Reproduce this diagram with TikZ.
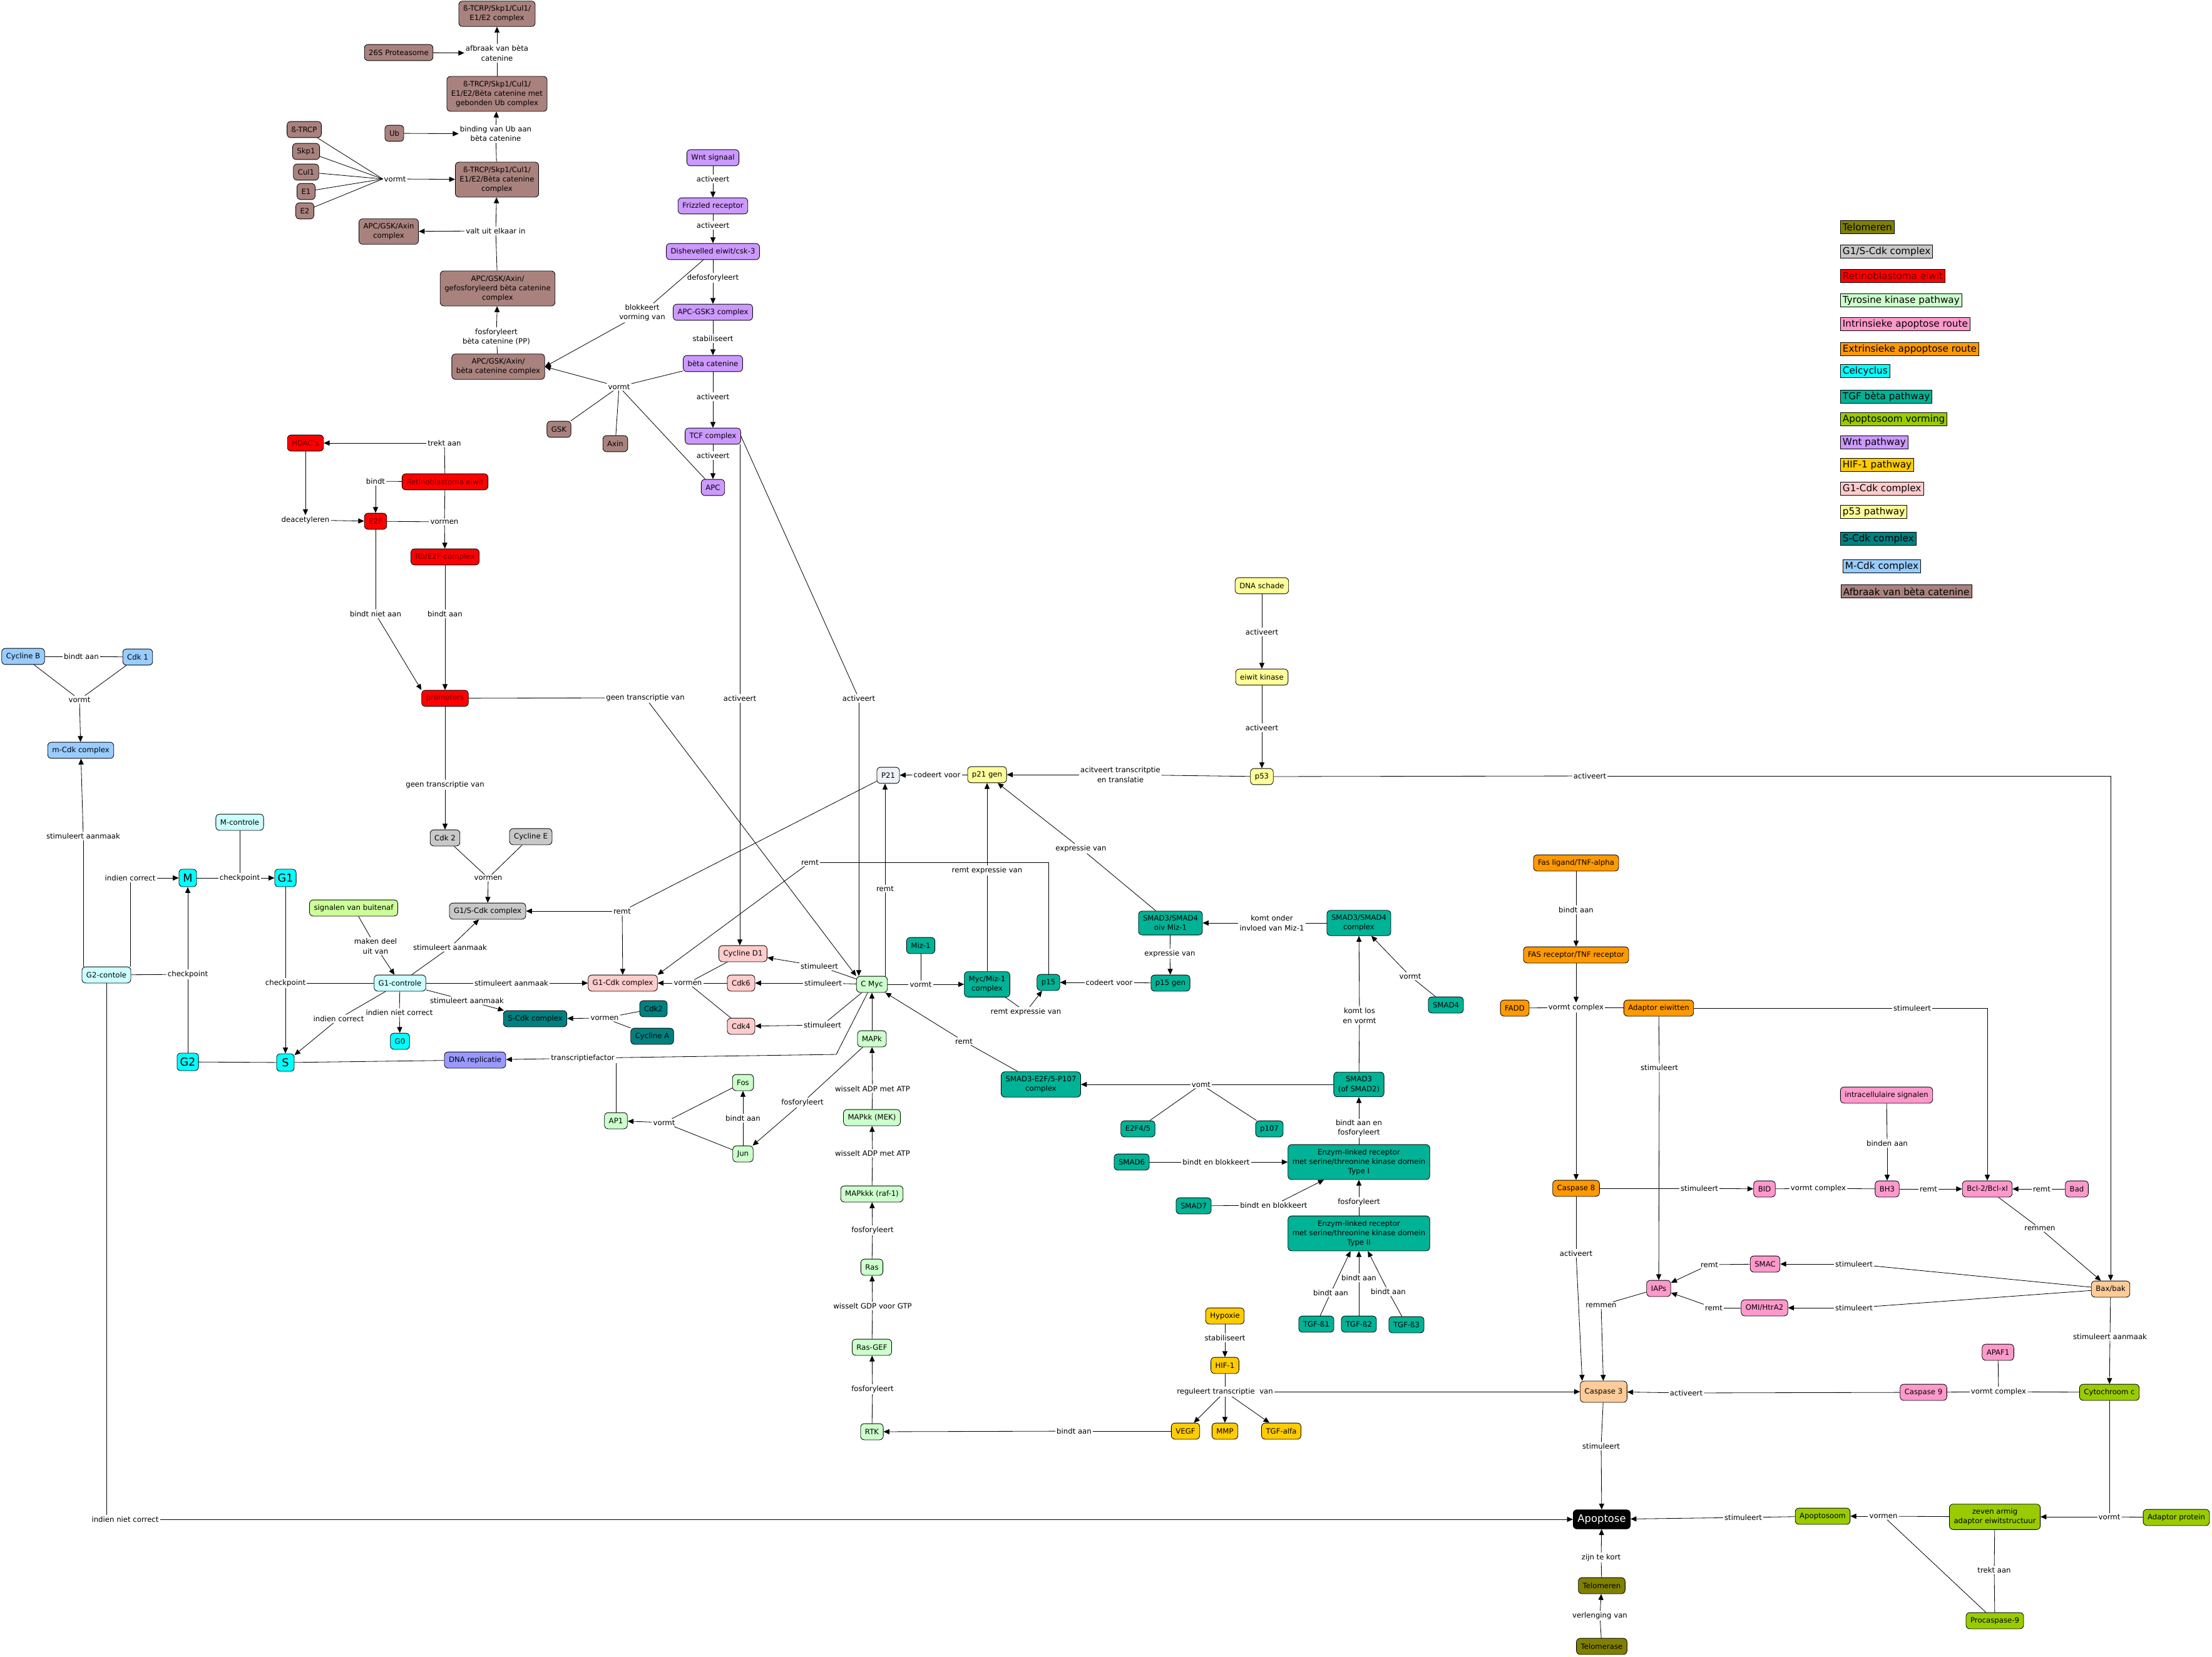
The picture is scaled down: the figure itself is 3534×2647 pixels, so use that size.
\documentclass[tikz,border=0pt]{standalone}
\usepackage{fontspec}
\setmainfont{DejaVu Sans}
\usepackage{tikz}
\usetikzlibrary{arrows.meta,calc}

\definecolor{colAfb}{RGB}{169,130,126}
\definecolor{colWnt}{RGB}{204,153,255}
\definecolor{colRb}{RGB}{255,0,0}
\definecolor{colRbText}{RGB}{105,0,0}
\definecolor{colGrey}{RGB}{200,200,200}
\definecolor{colTk}{RGB}{204,255,204}
\definecolor{colInt}{RGB}{255,153,204}
\definecolor{colExt}{RGB}{255,153,0}
\definecolor{colCel}{RGB}{0,255,255}
\definecolor{colTgf}{RGB}{0,178,150}
\definecolor{colAps}{RGB}{153,204,0}
\definecolor{colHif}{RGB}{255,204,0}
\definecolor{colGone}{RGB}{255,204,204}
\definecolor{colPft}{RGB}{255,255,153}
\definecolor{colScdk}{RGB}{0,128,128}
\definecolor{colMcdk}{RGB}{153,204,255}
\definecolor{colTelo}{RGB}{128,128,0}
\definecolor{colCtrl}{RGB}{204,255,255}
\definecolor{colSig}{RGB}{204,255,153}
\definecolor{colDna}{RGB}{153,153,255}
\definecolor{colPtw}{RGB}{236,242,246}
\definecolor{colPeach}{RGB}{255,204,153}

\begin{document}
\begin{tikzpicture}[x=0.03cm, y=-0.03cm, line width=0.7pt, >={Triangle[length=8pt,width=7pt]},
    cpt/.style={draw, rounded corners=5pt, align=center, inner xsep=6pt, inner ysep=6pt, minimum height=22pt, font=\fontsize{10}{13}\selectfont},
    lnk/.style={inner sep=1.5pt, align=center, font=\fontsize{10}{13}\selectfont},
    afbbox/.style={cpt, fill=colAfb},
    wntbox/.style={cpt, fill=colWnt},
    rbbox/.style={cpt, fill=colRb, text=colRbText},
    greybox/.style={cpt, fill=colGrey},
    tkbox/.style={cpt, fill=colTk},
    intbox/.style={cpt, fill=colInt},
    extbox/.style={cpt, fill=colExt},
    celbox/.style={cpt, fill=colCel},
    phasebox/.style={cpt, fill=colCel, font=\fontsize{15}{18}\selectfont, minimum width=24pt, minimum height=24pt, inner xsep=4pt},
    tgfbox/.style={cpt, fill=colTgf},
    apsbox/.style={cpt, fill=colAps},
    hifbox/.style={cpt, fill=colHif},
    gonebox/.style={cpt, fill=colGone},
    pftbox/.style={cpt, fill=colPft},
    scdkbox/.style={cpt, fill=colScdk},
    mcdkbox/.style={cpt, fill=colMcdk},
    telbox/.style={cpt, fill=colTelo},
    ctrlbox/.style={cpt, fill=colCtrl},
    peachbox/.style={cpt, fill=colPeach},
    apopbox/.style={cpt, fill=black, text=white, font=\fontsize{14}{17}\selectfont, minimum height=26pt},
    legbox/.style={draw, anchor=west, inner xsep=3pt, inner ysep=2pt, minimum height=18pt, font=\fontsize{13}{15}\selectfont}]

    \useasboundingbox (0,0) rectangle (3534,2647);

    \node[afbbox] (top) at (794,22) {ß-TCRP/Skp1/Cul1/\\E1/E2 complex};
    \node[afbbox] (pro) at (637,84) {26S Proteasome};
    \node[afbbox] (ubc) at (794,150) {ß-TRCP/Skp1/Cul1/\\E1/E2/Bèta catenine met\\gebonden Ub complex};
    \node[afbbox] (ub) at (630,213) {Ub};
    \node[afbbox] (btrcp) at (486,207) {ß-TRCP};
    \node[afbbox] (skp) at (489,242) {Skp1};
    \node[afbbox] (cul) at (489,275) {Cul1};
    \node[afbbox] (eone) at (489,306) {E1};
    \node[afbbox] (etwo) at (487,337) {E2};
    \node[afbbox] (cplx) at (794,287) {ß-TRCP/Skp1/Cul1/\\E1/E2/Bèta catenine\\complex};
    \node[afbbox] (agac) at (621,370) {APC/GSK/Axin\\complex};
    \node[afbbox] (gfc) at (795,461) {APC/GSK/Axin/\\gefosforyleerd bèta catenine\\complex};
    \node[afbbox] (abc) at (796,586) {APC/GSK/Axin/\\bèta catenine complex};
    \node[afbbox] (gsk) at (893,686) {GSK};
    \node[afbbox] (axin) at (983,709) {Axin};

    \node[lnk] (lAfbr) at (794,85) {afbraak van bèta\\catenine};
    \node[lnk] (lBind) at (792,214) {binding van Ub aan\\bèta catenine};
    \node[lnk] (lVormtA) at (631,286) {vormt};
    \node[lnk] (lValt) at (792,369) {valt uit elkaar in};
    \node[lnk] (lFosf) at (793,538) {fosforyleert\\bèta catenine (PP)};
    \node[lnk] (lBlok) at (1026,500) {blokkeert\\vorming van};
    \node[lnk] (lVormtB) at (989,618) {vormt};

    \node[wntbox] (wnt) at (1139,252) {Wnt signaal};
    \node[wntbox] (friz) at (1139,329) {Frizzled receptor};
    \node[wntbox] (dish) at (1139,402) {Dishevelled eiwit/csk-3};
    \node[wntbox] (apcg) at (1139,499) {APC-GSK3 complex};
    \node[wntbox] (bcat) at (1139,581) {bèta catenine};
    \node[wntbox] (tcf) at (1139,697) {TCF complex};
    \node[wntbox] (apc) at (1139,779) {APC};
    \node[lnk] (lActWa) at (1139,286) {activeert};
    \node[lnk] (lActWb) at (1139,360) {activeert};
    \node[lnk] (lDefos) at (1139,444) {defosforyleert};
    \node[lnk] (lStab) at (1139,541) {stabiliseert};
    \node[lnk] (lActWc) at (1139,634) {activeert};
    \node[lnk] (lActWd) at (1139,728) {activeert};
    \node[lnk] (lActD) at (1182,1116) {activeert};
    \node[lnk] (lActM) at (1372,1116) {activeert};

    \node[rbbox] (hdac) at (488,708) {HDAC's};
    \node[rbbox] (rb) at (711,770) {Retinoblastoma eiwit};
    \node[rbbox] (etf) at (600,833) {E2F};
    \node[rbbox] (rbe) at (711,890) {Rb/E2F-complex};
    \node[rbbox] (prom) at (711,1116) {promoters};
    \node[lnk] (lTrekt) at (710,708) {trekt aan};
    \node[lnk] (lBindt) at (600,769) {bindt};
    \node[lnk] (lDeac) at (488,831) {deacetyleren};
    \node[lnk] (lVormenA) at (710,834) {vormen};
    \node[lnk] (lBna) at (600,981) {bindt niet aan};
    \node[lnk] (lBa) at (711,981) {bindt aan};
    \node[lnk] (lGeenA) at (711,1254) {geen transcriptie van};
    \node[lnk] (lGeenB) at (1031,1115) {geen transcriptie van};

    \node[mcdkbox] (cycb) at (37,1049) {Cycline B};
    \node[mcdkbox] (cdkone) at (220,1050) {Cdk 1};
    \node[mcdkbox] (mcdk) at (129,1199) {m-Cdk complex};
    \node[lnk] (lBaB) at (130,1049) {bindt aan};
    \node[lnk] (lVormtC) at (127,1118) {vormt};

    \node[ctrlbox] (mctrl) at (383,1314) {M-controle};
    \node[phasebox] (mph) at (300,1403) {M};
    \node[phasebox] (gone) at (456,1403) {G1};
    \node[ctrlbox] (g2c) at (170,1558) {G2-contole};
    \node[phasebox] (gtwo) at (300,1697) {G2};
    \node[phasebox] (sph) at (456,1698) {S};
    \node[cpt, fill=colSig] (sig) at (565,1451) {signalen van buitenaf};
    \node[ctrlbox] (gonec) at (639,1571) {G1-controle};
    \node[celbox] (gzero) at (639,1664) {G0};
    \node[cpt, fill=colDna] (dna) at (759,1694) {DNA replicatie};
    \node[lnk] (lStimM) at (133,1336) {stimuleert aanmaak};
    \node[lnk] (lIndC) at (208,1403) {indien correct};
    \node[lnk] (lChkM) at (383,1403) {checkpoint};
    \node[lnk] (lChkGt) at (300,1557) {checkpoint};
    \node[lnk] (lChkGo) at (456,1571) {checkpoint};
    \node[lnk] (lMaken) at (600,1512) {maken deel\\uit van};
    \node[lnk] (lStimGS) at (719,1514) {stimuleert aanmaak};
    \node[lnk] (lStimGo) at (817,1571) {stimuleert aanmaak};
    \node[lnk] (lStimS) at (746,1599) {stimuleert aanmaak};
    \node[lnk] (lIndNC) at (638,1618) {indien niet correct};
    \node[lnk] (lIndCb) at (541,1628) {indien correct};
    \node[lnk] (lIndNCb) at (200,2428) {indien niet correct};

    \node[greybox] (cdktwo) at (711,1339) {Cdk 2};
    \node[greybox] (cyce) at (848,1337) {Cycline E};
    \node[greybox] (gsc) at (779,1456) {G1/S-Cdk complex};
    \node[lnk] (lVormenB) at (780,1403) {vormen};
    \node[cpt, fill=colPtw] (pEen) at (1419,1239) {P21};
    \node[lnk] (lRemtPe) at (994,1456) {remt};
    \node[lnk] (lRemtPf) at (1294,1378) {remt};
    \node[gonebox] (cycd) at (1187,1524) {Cycline D1};
    \node[gonebox] (gcdk) at (995,1571) {G1-Cdk complex};
    \node[gonebox] (cdksix) at (1184,1571) {Cdk6};
    \node[gonebox] (cdkfour) at (1184,1640) {Cdk4};
    \node[lnk] (lVormenC) at (1099,1571) {vormen};
    \node[tkbox] (cmyc) at (1393,1573) {C Myc};
    \node[lnk] (lStimD) at (1309,1544) {stimuleert};
    \node[lnk] (lStimSix) at (1315,1571) {stimuleert};
    \node[lnk] (lStimFour) at (1314,1638) {stimuleert};
    \node[scdkbox] (scdk) at (855,1628) {S-Cdk complex};
    \node[scdkbox] (cdkb) at (1044,1612) {Cdk2};
    \node[scdkbox] (cyca) at (1042,1656) {Cycline A};
    \node[lnk] (lVormenD) at (966,1627) {vormen};
    \node[lnk] (lTrans) at (931,1691) {transcriptiefactor};
    \coordinate (kMyc) at (1336,1685);
    \node[lnk] (lRemtMyc) at (1414,1420) {remt};
    \node[tgfbox] (mizone) at (1471,1511) {Miz-1};
    \node[lnk] (lVormtM) at (1471,1573) {vormt};
    \node[tgfbox] (mycmiz) at (1577,1573) {Myc/Miz-1\\complex};
    \node[tgfbox] (pfift) at (1675,1570) {p15};
    \node[lnk] (lRemtEa) at (1577,1391) {remt expressie van};
    \node[lnk] (lRemtEb) at (1639,1617) {remt expressie van};

    \node[tkbox] (mapk) at (1393,1660) {MAPk};
    \node[tkbox] (fos) at (1187,1730) {Fos};
    \node[tkbox] (jun) at (1187,1844) {Jun};
    \node[tkbox] (apone) at (984,1791) {AP1};
    \node[tkbox] (mapkk) at (1393,1786) {MAPkk (MEK)};
    \node[tkbox] (mapkkk) at (1393,1908) {MAPkkk (raf-1)};
    \node[tkbox] (ras) at (1393,2025) {Ras};
    \node[tkbox] (rasgef) at (1393,2153) {Ras-GEF};
    \node[tkbox] (rtk) at (1393,2288) {RTK};
    \node[lnk] (lFosJ) at (1282,1762) {fosforyleert};
    \node[lnk] (lBaF) at (1187,1787) {bindt aan};
    \node[lnk] (lVormtF) at (1061,1794) {vormt};
    \node[lnk] (lWisA) at (1394,1740) {wisselt ADP met ATP};
    \node[lnk] (lWisB) at (1394,1843) {wisselt ADP met ATP};
    \node[lnk] (lFosR) at (1394,1966) {fosforyleert};
    \node[lnk] (lWisC) at (1394,2087) {wisselt GDP voor GTP};
    \node[lnk] (lFosRt) at (1394,2220) {fosforyleert};
    \node[lnk] (lBaV) at (1716,2287) {bindt aan};

    \node[pftbox] (dnas) at (2016,936) {DNA schade};
    \node[pftbox] (ekin) at (2016,1082) {eiwit kinase};
    \node[pftbox] (pftt) at (2016,1241) {p53};
    \node[pftbox] (ptwoone) at (1577,1238) {p21 gen};
    \node[lnk] (lActPa) at (2016,1010) {activeert};
    \node[lnk] (lActPb) at (2016,1163) {activeert};
    \node[lnk] (lCodPe) at (1497,1238) {codeert voor};
    \node[lnk] (lAcit) at (1790,1238) {acitveert transcritptie\\en translatie};
    \node[lnk] (lActB) at (2540,1240) {activeert};

    \node[tgfbox] (smadoiv) at (1870,1475) {SMAD3/SMAD4\\oiv Miz-1};
    \node[tgfbox] (smadc) at (2171,1475) {SMAD3/SMAD4\\complex};
    \node[tgfbox] (pfgen) at (1870,1571) {p15 gen};
    \node[tgfbox] (smadfour) at (2310,1606) {SMAD4};
    \node[tgfbox] (smadthree) at (2171,1733) {SMAD3\\(of SMAD2)};
    \node[tgfbox] (smadefp) at (1663,1733) {SMAD3-E2F/5-P107\\complex};
    \node[tgfbox] (efour) at (1818,1804) {E2F4/5};
    \node[tgfbox] (phund) at (2028,1804) {p107};
    \node[tgfbox] (typeone) at (2171,1857) {Enzym-linked receptor\\met serine/threonine kinase domein\\Type I};
    \node[tgfbox] (smadsix) at (1808,1857) {SMAD6};
    \node[tgfbox] (smadseven) at (1907,1927) {SMAD7};
    \node[tgfbox] (typetwo) at (2171,1971) {Enzym-linked receptor\\met serine/threonine kinase domein\\Type II};
    \node[tgfbox] (tgfa) at (2103,2116) {TGF-ß1};
    \node[tgfbox] (tgfb) at (2171,2116) {TGF-ß2};
    \node[tgfbox] (tgfc) at (2247,2117) {TGF-ß3};
    \node[lnk] (lExprA) at (1727,1356) {expressie van};
    \node[lnk] (lKomtO) at (2032,1475) {komt onder\\invloed van Miz-1};
    \node[lnk] (lExprB) at (1869,1524) {expressie van};
    \node[lnk] (lCodPf) at (1772,1570) {codeert voor};
    \node[lnk] (lVormtS) at (2253,1560) {vormt};
    \node[lnk] (lKomtL) at (2172,1623) {komt los\\en vormt};
    \node[lnk] (lRemtS) at (1540,1664) {remt};
    \node[lnk] (lVomt) at (1919,1733) {vomt};
    \node[lnk] (lBaeF) at (2171,1803) {bindt aan en\\fosforyleert};
    \node[lnk] (lBebA) at (1943,1857) {bindt en blokkeert};
    \node[lnk] (lBebB) at (2035,1926) {bindt en blokkeert};
    \node[lnk] (lFosT) at (2171,1921) {fosforyleert};
    \node[lnk] (lBaTa) at (2126,2066) {bindt aan};
    \node[lnk] (lBaTb) at (2171,2042) {bindt aan};
    \node[lnk] (lBaTc) at (2218,2064) {bindt aan};

    \node[hifbox] (hypo) at (1957,2103) {Hypoxie};
    \node[hifbox] (hif) at (1957,2182) {HIF-1};
    \node[hifbox] (vegf) at (1894,2287) {VEGF};
    \node[hifbox] (mmp) at (1957,2287) {MMP};
    \node[hifbox] (tgfalfa) at (2047,2287) {TGF-alfa};
    \node[lnk] (lStabH) at (1957,2138) {stabiliseert};
    \node[lnk] (lReg) at (1957,2224) {reguleert transcriptie\ \ van};

    \node[extbox] (fasl) at (2518,1379) {Fas ligand/TNF-alpha};
    \node[extbox] (fasr) at (2518,1526) {FAS receptor/TNF receptor};
    \node[extbox] (fadd) at (2420,1611) {FADD};
    \node[extbox] (adapt) at (2650,1611) {Adaptor eiwitten};
    \node[extbox] (casp) at (2518,1899) {Caspase 8};
    \node[intbox] (intra) at (3014,1750) {intracellulaire signalen};
    \node[intbox] (bid) at (2819,1900) {BID};
    \node[intbox] (bh) at (3015,1900) {BH3};
    \node[intbox] (bcl) at (3175,1900) {Bcl-2/Bcl-xl};
    \node[intbox] (bad) at (3318,1900) {Bad};
    \node[intbox] (smac) at (2820,2020) {SMAC};
    \node[intbox] (iaps) at (2650,2059) {IAPs};
    \node[intbox] (omi) at (2819,2090) {OMI/HtrA2};
    \node[peachbox] (bax) at (3372,2060) {Bax/bak};
    \node[intbox] (apaf) at (3192,2161) {APAF1};
    \node[peachbox, minimum height=29pt] (caspd) at (2562,2224) {Caspase 3};
    \node[intbox] (caspn) at (3073,2225) {Caspase 9};
    \node[apsbox] (cyt) at (3370,2225) {Cytochroom c};
    \node[apopbox] (apop) at (2559,2428) {Apoptose};
    \node[apsbox] (apsm) at (2912,2423) {Apoptosoom};
    \node[apsbox] (zeven) at (3187,2424) {zeven armig\\adaptor eiwitstructuur};
    \node[apsbox] (adprot) at (3477,2425) {Adaptor protein};
    \node[telbox] (telo) at (2559,2534) {Telomeren};
    \node[telbox] (telase) at (2559,2631) {Telomerase};
    \node[apsbox] (proc) at (3187,2590) {Procaspase-9};
    \node[lnk] (lBaFas) at (2518,1454) {bindt aan};
    \node[lnk] (lVcxA) at (2518,1610) {vormt complex};
    \node[lnk] (lStimBcl) at (3055,1611) {stimuleert};
    \node[lnk] (lStimIap) at (2651,1706) {stimuleert};
    \node[lnk] (lBinden) at (3015,1827) {binden aan};
    \node[lnk] (lStimBid) at (2715,1899) {stimuleert};
    \node[lnk] (lVcxB) at (2905,1899) {vormt complex};
    \node[lnk] (lRemtBh) at (3081,1900) {remt};
    \node[lnk] (lRemtBad) at (3262,1900) {remt};
    \node[lnk] (lRemmenB) at (3259,1963) {remmen};
    \node[lnk] (lActCe) at (2518,2003) {activeert};
    \node[lnk] (lRemtSm) at (2731,2021) {remt};
    \node[lnk] (lStimSm) at (2962,2020) {stimuleert};
    \node[lnk] (lRemmenI) at (2558,2086) {remmen};
    \node[lnk] (lRemtOmi) at (2738,2090) {remt};
    \node[lnk] (lStimOmi) at (2962,2090) {stimuleert};
    \node[lnk] (lStimCyt) at (3371,2136) {stimuleert aanmaak};
    \node[lnk] (lActCn) at (2694,2226) {activeert};
    \node[lnk] (lVcxC) at (3193,2224) {vormt complex};
    \node[lnk] (lStimA) at (2558,2311) {stimuleert};
    \node[lnk] (lStimAp) at (2785,2425) {stimuleert};
    \node[lnk] (lVormenAp) at (3009,2423) {vormen};
    \node[lnk] (lVormtZ) at (3370,2424) {vormt};
    \node[lnk] (lZijn) at (2558,2489) {zijn te kort};
    \node[lnk] (lTrektP) at (3186,2509) {trekt aan};
    \node[lnk] (lVerl) at (2556,2582) {verlenging van};

    \node[legbox, fill=colTelo] (legA) at (2940,363) {Telomeren};
    \node[legbox, fill=colGrey] (legB) at (2940,402) {G1/S-Cdk complex};
    \node[legbox, fill=colRb, text=colRbText] (legC) at (2940,441) {Retinoblastoma eiwit};
    \node[legbox, fill=colTk] (legD) at (2940,480) {Tyrosine kinase pathway};
    \node[legbox, fill=colInt] (legE) at (2940,518) {Intrinsieke apoptose route};
    \node[legbox, fill=colExt] (legF) at (2940,558) {Extrinsieke appoptose route};
    \node[legbox, fill=colCel] (legG) at (2940,593) {Celcyclus};
    \node[legbox, fill=colTgf] (legH) at (2940,634) {TGF bèta pathway};
    \node[legbox, fill=colAps] (legI) at (2940,670) {Apoptosoom vorming};
    \node[legbox, fill=colWnt] (legJ) at (2940,707) {Wnt pathway};
    \node[legbox, fill=colHif] (legK) at (2940,743) {HIF-1 pathway};
    \node[legbox, fill=colGone] (legL) at (2940,781) {G1-Cdk complex};
    \node[legbox, fill=colPft] (legM) at (2940,818) {p53 pathway};
    \node[legbox, fill=colScdk] (legN) at (2940,861) {S-Cdk complex};
    \node[legbox, fill=colMcdk] (legO) at (2944,905) {M-Cdk complex};
    \node[legbox, fill=colAfb] (legP) at (2941,945) {Afbraak van bèta catenine};

    \draw[->] (pro) -- (lAfbr);
    \draw (ubc) -- (lAfbr); \draw[->] (lAfbr) -- (top);
    \draw[->] (ub) -- (lBind);
    \draw (cplx) -- (lBind); \draw[->] (lBind) -- (ubc);
    \draw (btrcp) -- (lVormtA.west); \draw (skp) -- (lVormtA.west); \draw (cul) -- (lVormtA.west);
    \draw (eone) -- (lVormtA.west); \draw (etwo) -- (lVormtA.west);
    \draw[->] (lVormtA) -- (cplx);
    \draw (gfc) -- (lValt); \draw[->] (lValt) -- (cplx); \draw[->] (lValt) -- (agac);
    \draw (abc) -- (lFosf); \draw[->] (lFosf) -- (gfc);
    \draw (dish) -- (lBlok); \draw[->] (lBlok) -- (abc.east);
    \draw (bcat) -- (lVormtB); \draw (gsk) -- (lVormtB); \draw (axin) -- (lVormtB); \draw (apc) -- (lVormtB);
    \draw[->] (lVormtB) -- (abc.east);

    \draw (wnt) -- (lActWa); \draw[->] (lActWa) -- (friz);
    \draw (friz) -- (lActWb); \draw[->] (lActWb) -- (dish);
    \draw (dish) -- (lDefos); \draw[->] (lDefos) -- (apcg);
    \draw (apcg) -- (lStab); \draw[->] (lStab) -- (bcat);
    \draw (bcat) -- (lActWc); \draw[->] (lActWc) -- (tcf);
    \draw (tcf) -- (lActWd); \draw[->] (lActWd) -- (apc);
    \draw (lActD |- tcf.south) -- (lActD); \draw[->] (lActD) -- (lActD |- cycd.north);
    \draw (tcf.east) -- (lActM); \draw[->] (lActM) -- (lActM |- cmyc.north);

    \draw (rb) -- (lTrekt); \draw[->] (lTrekt) -- (hdac);
    \draw[->] (hdac) -- (lDeac); \draw[->] (lDeac) -- (etf);
    \draw (rb) -- (lBindt); \draw[->] (lBindt) -- (etf);
    \draw (etf) -- (lVormenA); \draw (rb) -- (lVormenA); \draw[->] (lVormenA) -- (rbe);
    \draw (etf) -- (lBna); \draw[->] (lBna) -- (prom.north west);
    \draw (rbe) -- (lBa); \draw[->] (lBa) -- (prom);
    \draw (prom) -- (lGeenA); \draw[->] (lGeenA) -- (cdktwo);
    \draw (prom) -- (lGeenB); \draw[->] (lGeenB) -- (cmyc.north west);

    \draw (cycb) -- (lBaB); \draw (lBaB) -- (cdkone);
    \draw (cycb) -- (lVormtC); \draw (cdkone) -- (lVormtC); \draw[->] (lVormtC) -- (mcdk);
    \draw (lStimM |- g2c.north) -- (lStimM); \draw[->] (lStimM) -- (mcdk);
    \draw (lIndC |- g2c.north) -- (lIndC); \draw[->] (lIndC) -- (mph);
    \draw (g2c) -- (lChkGt); \draw (gtwo) -- (lChkGt); \draw[->] (lChkGt) -- (mph);
    \draw (mph) -- (lChkM); \draw (mctrl) -- (lChkM); \draw[->] (lChkM) -- (gone);
    \draw (gone) -- (lChkGo); \draw (gonec) -- (lChkGo); \draw[->] (lChkGo) -- (sph);
    \draw (gtwo) -- (sph);
    \draw (sph) -- (dna);
    \draw (sig) -- (lMaken); \draw[->] (lMaken) -- (gonec);
    \draw (gonec) -- (lStimGS); \draw[->] (lStimGS) -- (gsc);
    \draw (gonec) -- (lStimGo); \draw[->] (lStimGo) -- (gcdk);
    \draw (gonec) -- (lStimS); \draw[->] (lStimS) -- (scdk);
    \draw (gonec) -- (lIndCb); \draw[->] (lIndCb) -- (sph);
    \draw (gonec) -- (lIndNC); \draw[->] (lIndNC) -- (gzero);
    \draw (g2c) -- (g2c |- lIndNCb.north); \draw[->] (lIndNCb) -- (apop);

    \draw (cdktwo) -- (lVormenB); \draw (cyce) -- (lVormenB); \draw[->] (lVormenB) -- (gsc);
    \draw (pEen) -- (lRemtPe); \draw[->] (lRemtPe) -- (gsc); \draw[->] (lRemtPe) -- (gcdk);
    \draw (pfift) |- (lRemtPf); \draw[->] (lRemtPf) -- (gcdk.north east);
    \draw (cycd) -- (lVormenC); \draw (cdksix) -- (lVormenC); \draw (cdkfour) -- (lVormenC); \draw[->] (lVormenC) -- (gcdk);
    \draw (cmyc) -- (lStimD); \draw[->] (lStimD) -- (cycd);
    \draw (cmyc) -- (lStimSix); \draw[->] (lStimSix) -- (cdksix);
    \draw (cmyc) -- (lStimFour); \draw[->] (lStimFour) -- (cdkfour);
    \draw (cdkb) -- (lVormenD); \draw (cyca) -- (lVormenD); \draw[->] (lVormenD) -- (scdk);
    \draw (cmyc) -- (kMyc) -- (lTrans); \draw (apone) -- (apone |- lTrans.south); \draw[->] (lTrans) -- (dna);
    \draw (cmyc.north -| lRemtMyc) -- (lRemtMyc); \draw[->] (lRemtMyc) -- (lRemtMyc |- pEen.south);
    \draw (cmyc) -- (lVormtM); \draw (mizone) -- (lVormtM); \draw[->] (lVormtM) -- (mycmiz);
    \draw (mycmiz) -- (lRemtEa); \draw[->] (lRemtEa) -- (ptwoone);
    \draw (mycmiz) -- (lRemtEb); \draw[->] (lRemtEb) -- (pfift);

    \draw[->] (mapk) -- (cmyc);
    \draw (mapk) -- (lFosJ); \draw[->] (lFosJ) -- (jun);
    \draw (jun) -- (lBaF); \draw[->] (lBaF) -- (fos);
    \draw (fos) -- (lVormtF); \draw (jun) -- (lVormtF); \draw[->] (lVormtF) -- (apone);
    \draw (mapkk) -- (lWisA); \draw[->] (lWisA) -- (mapk);
    \draw (mapkkk) -- (lWisB); \draw[->] (lWisB) -- (mapkk);
    \draw (ras) -- (lFosR); \draw[->] (lFosR) -- (mapkkk);
    \draw (rasgef) -- (lWisC); \draw[->] (lWisC) -- (ras);
    \draw (rtk) -- (lFosRt); \draw[->] (lFosRt) -- (rasgef);
    \draw (vegf) -- (lBaV); \draw[->] (lBaV) -- (rtk);

    \draw (dnas) -- (lActPa); \draw[->] (lActPa) -- (ekin);
    \draw (ekin) -- (lActPb); \draw[->] (lActPb) -- (pftt);
    \draw (ptwoone) -- (lCodPe); \draw[->] (lCodPe) -- (pEen);
    \draw (pftt) -- (lAcit); \draw[->] (lAcit) -- (ptwoone);
    \draw (pftt) -- (lActB); \draw[->] (lActB) -| (bax);

    \draw (smadoiv) -- (lExprA); \draw[->] (lExprA) -- (ptwoone);
    \draw (smadoiv) -- (lExprB); \draw[->] (lExprB) -- (pfgen);
    \draw (pfgen) -- (lCodPf); \draw[->] (lCodPf) -- (pfift);
    \draw (smadc) -- (lKomtO); \draw[->] (lKomtO) -- (smadoiv);
    \draw (smadfour) -- (lVormtS); \draw[->] (lVormtS) -- (smadc);
    \draw (smadthree) -- (lKomtL); \draw[->] (lKomtL) -- (smadc);
    \draw (smadthree) -- (lVomt); \draw (efour) -- (lVomt); \draw (phund) -- (lVomt); \draw[->] (lVomt) -- (smadefp);
    \draw (smadefp) -- (lRemtS); \draw[->] (lRemtS) -- (cmyc);
    \draw (typeone) -- (lBaeF); \draw[->] (lBaeF) -- (smadthree);
    \draw (typetwo) -- (lFosT); \draw[->] (lFosT) -- (typeone);
    \draw (smadsix) -- (lBebA); \draw[->] (lBebA) -- (typeone);
    \draw (smadseven) -- (lBebB); \draw[->] (lBebB) -- (typeone);
    \draw (tgfa) -- (lBaTa); \draw[->] (lBaTa) -- (typetwo);
    \draw (tgfb) -- (lBaTb); \draw[->] (lBaTb) -- (typetwo);
    \draw (tgfc) -- (lBaTc); \draw[->] (lBaTc) -- (typetwo);

    \draw (hypo) -- (lStabH); \draw[->] (lStabH) -- (hif);
    \draw (hif) -- (lReg); \draw[->] (lReg) -- (vegf); \draw[->] (lReg) -- (mmp); \draw[->] (lReg) -- (tgfalfa);
    \draw[->] (lReg) -- (caspd);

    \draw (fasl) -- (lBaFas); \draw[->] (lBaFas) -- (fasr);
    \draw[->] (fasr) -- (lVcxA); \draw (fadd) -- (lVcxA); \draw (adapt) -- (lVcxA); \draw[->] (lVcxA) -- (casp);
    \draw (adapt) -- (lStimBcl); \draw[->] (lStimBcl) -| (bcl);
    \draw (adapt) -- (lStimIap); \draw[->] (lStimIap) -- (iaps);
    \draw (intra) -- (lBinden); \draw[->] (lBinden) -- (bh);
    \draw (casp) -- (lStimBid); \draw[->] (lStimBid) -- (bid);
    \draw (bid) -- (lVcxB); \draw (lVcxB) -- (bh);
    \draw (bh) -- (lRemtBh); \draw[->] (lRemtBh) -- (bcl);
    \draw (bad) -- (lRemtBad); \draw[->] (lRemtBad) -- (bcl);
    \draw (bcl) -- (lRemmenB); \draw[->] (lRemmenB) -- (bax);
    \draw (casp) -- (lActCe); \draw[->] (lActCe) -- ([xshift=3pt]caspd.north west);
    \draw (bax) -- (lStimSm); \draw[->] (lStimSm) -- (smac);
    \draw (bax) -- (lStimOmi); \draw[->] (lStimOmi) -- (omi);
    \draw (smac) -- (lRemtSm); \draw[->] (lRemtSm) -- (iaps);
    \draw (omi) -- (lRemtOmi); \draw[->] (lRemtOmi) -- (iaps);
    \draw (iaps) -- (lRemmenI); \draw[->] (lRemmenI) -- (caspd);
    \draw (bax) -- (lStimCyt); \draw[->] (lStimCyt) -- (cyt);
    \draw (cyt) -- (lVcxC); \draw (apaf) -- (lVcxC); \draw (lVcxC) -- (caspn);
    \draw (caspn) -- (lActCn); \draw[->] (lActCn) -- (caspd);
    \draw (cyt) -- (lVormtZ); \draw (adprot) -- (lVormtZ); \draw[->] (lVormtZ) -- (zeven);
    \draw (zeven) -- (lVormenAp); \draw (proc) -- (lVormenAp); \draw[->] (lVormenAp) -- (apsm);
    \draw (zeven) -- (lTrektP); \draw (lTrektP) -- (proc);
    \draw (apsm) -- (lStimAp); \draw[->] (lStimAp) -- (apop);
    \draw (caspd) -- (lStimA); \draw[->] (lStimA) -- (apop);
    \draw (telo) -- (lZijn); \draw[->] (lZijn) -- (apop);
    \draw (telase) -- (lVerl); \draw[->] (lVerl) -- (telo);
\end{tikzpicture}
\end{document}
